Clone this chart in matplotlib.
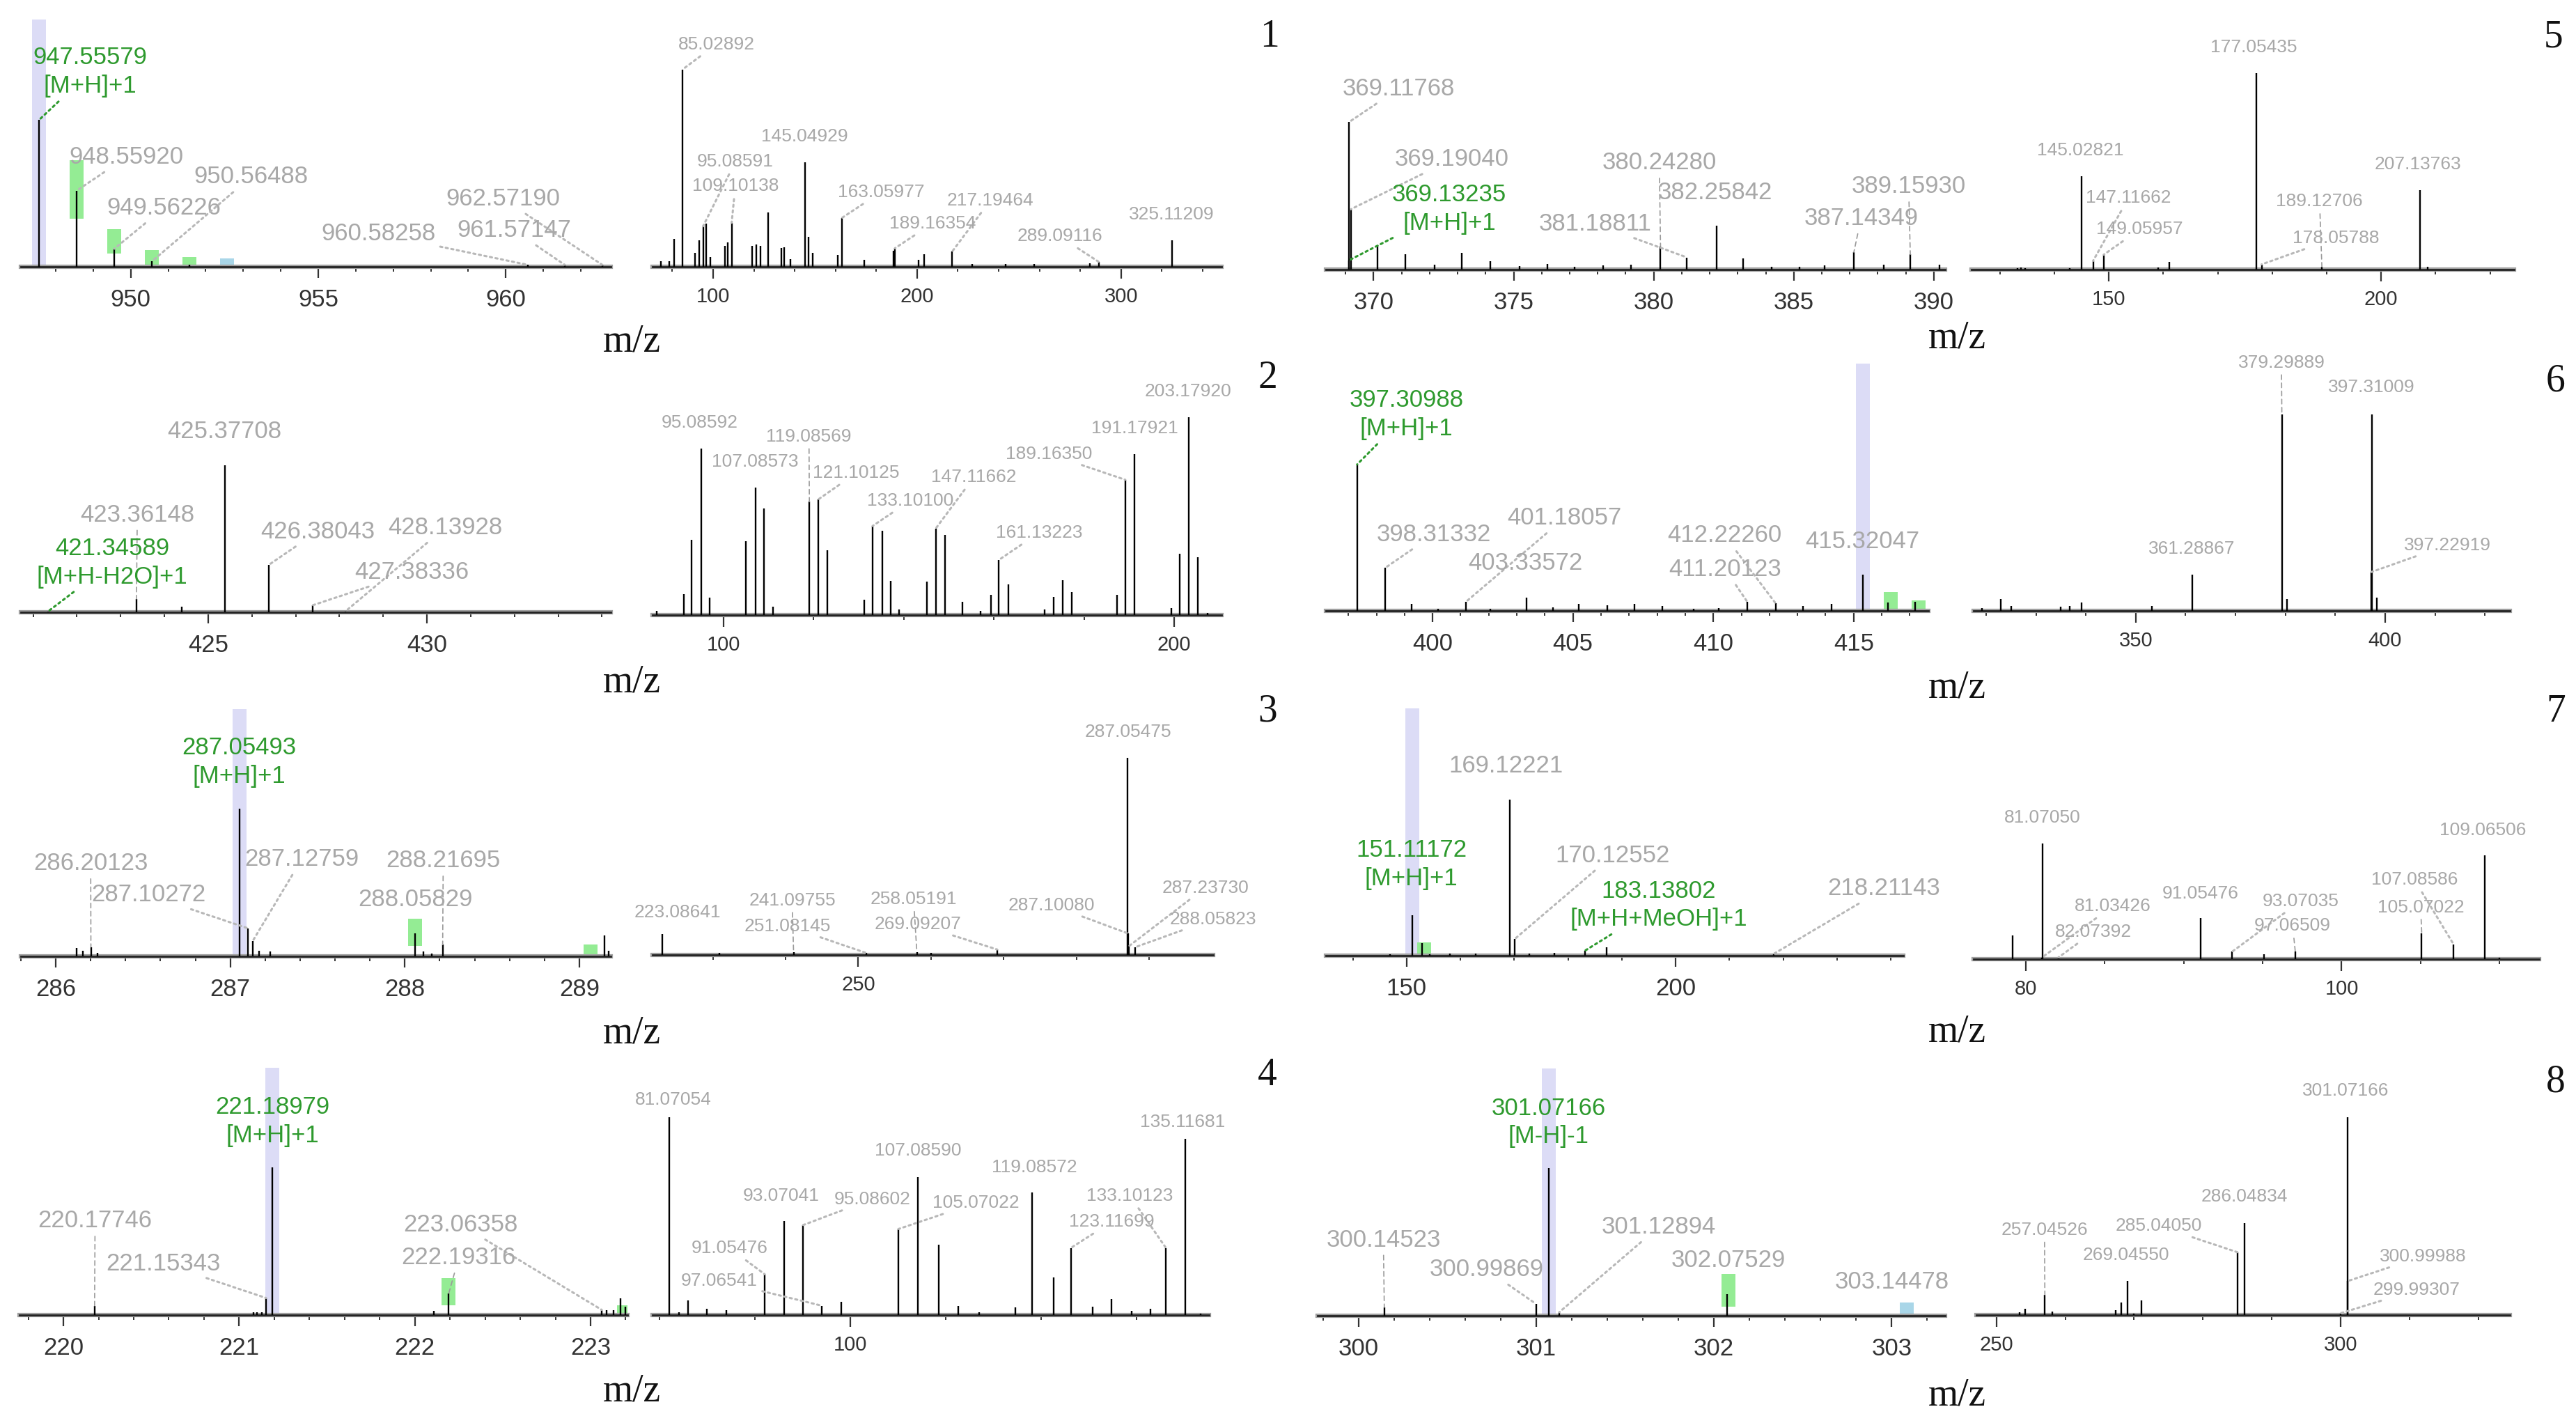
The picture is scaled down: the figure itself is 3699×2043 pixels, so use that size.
import matplotlib
matplotlib.use('Agg')
import matplotlib.pyplot as plt
from matplotlib.ticker import MultipleLocator, FormatStrFormatter

plt.rcParams['font.family'] = ['Liberation Sans', 'DejaVu Sans']

# ---------------- DATA ----------------
# Panel 1
p1_ms1_mz = [947.55579, 948.55920, 949.56226, 950.56488, 951.567, 960.58258, 961.57147, 962.57190]
p1_ms1_int = [59.4, 30.8, 7.3, 2.2, 0.8, 0.8, 0.8, 0.8]
p1_ms1_lab = [947.55579, 948.55920, 949.56226, 950.56488, 962.57190, 961.57147, 960.58258]
p1_ms1_note = ['[M+H]+1', '', '', '', '', '', '']
p1_ms1_prec = 947.55579
p1_iso_mz = [948.56, 949.56, 950.56, 951.57, 952.57]
p1_iso_lo = [19.5, 5.4, 0.0, 0.3, 0.3]
p1_iso_hi = [43.0, 15.3, 6.9, 4.0, 3.4]
p1_iso_kind = ['g', 'g', 'g', 'g', 'b']

p1_ms2_mz = [74.3, 78.4, 80.9, 85.02892, 91.05, 93.07, 95.08591, 96.7, 98.5, 105.7, 107.3, 109.10138,
             119.1, 121.2, 123.2, 126.9, 133.4, 135.0, 138.0, 145.04929, 146.8, 148.9, 161.1, 163.05977,
             174.1, 188.4, 189.16354, 200.6, 203.5, 217.19464, 227.0, 243.4, 257.6, 284.9, 289.09116, 325.11209]
p1_ms2_int = [2.3, 2.3, 11.3, 79.8, 5.6, 10.8, 16.4, 17.4, 4.0, 8.5, 10.0, 17.8,
              8.5, 9.0, 8.5, 22.0, 7.5, 8.0, 3.0, 42.3, 12.0, 5.6, 4.7, 19.7,
              2.8, 6.6, 7.5, 2.8, 5.2, 6.1, 1.0, 1.0, 1.2, 1.5, 2.0, 10.8]
p1_ms2_lab = [85.02892, 145.04929, 95.08591, 109.10138, 163.05977, 217.19464, 189.16354, 289.09116, 325.11209]

# Panel 2
p2_ms1_mz = [421.34589, 423.36148, 424.39, 425.37708, 426.38043, 427.38336, 428.13928]
p2_ms1_int = [0.4, 5.4, 2.2, 59.4, 19.1, 2.8, 0.4]
p2_ms1_lab = [425.37708, 423.36148, 421.34589, 426.38043, 428.13928, 427.38336]
p2_ms1_note = ['', '', '[M+H-H2O]+1', '', '', '']

p2_ms2_mz = [85.3, 91.2, 93.0, 95.08592, 96.9, 105.0, 107.08573, 109.0, 111.0, 119.08569, 121.10125, 123.0,
             131.3, 133.10100, 135.2, 137.2, 139.0, 145.1, 147.11662, 149.2, 153.0, 157.1, 159.3, 161.13223,
             163.2, 171.3, 173.3, 175.3, 177.3, 187.3, 189.16350, 191.17921, 199.4, 201.3, 203.17920, 205.3, 207.4]
p2_ms2_int = [1.7, 8.5, 30.3, 67.2, 7.1, 29.9, 51.5, 43.2, 3.4, 45.8, 46.8, 26.1,
              6.2, 36.0, 34.1, 13.9, 2.2, 13.4, 35.0, 32.5, 5.3, 1.7, 8.3, 22.3,
              12.5, 2.2, 7.3, 14.2, 9.2, 8.3, 54.7, 65.1, 2.8, 24.9, 79.9, 23.3, 0.8]
p2_ms2_lab = [95.08592, 107.08573, 119.08569, 121.10125, 133.10100, 147.11662, 161.13223, 189.16350, 191.17921, 203.17920]

# Panel 3
p3_ms1_mz = [286.12, 286.157, 286.20123, 286.24, 287.05493, 287.10272, 287.12759, 287.165, 287.227,
             288.05829, 288.107, 288.155, 288.21695, 289.143, 289.167]
p3_ms1_int = [3.3, 2.3, 3.8, 1.4, 59.6, 11.3, 6.1, 2.3, 1.9, 9.4, 1.9, 1.2, 4.7, 8.5, 2.3]
p3_ms1_lab = [287.05493, 286.20123, 287.10272, 287.12759, 288.21695, 288.05829]
p3_ms1_note = ['[M+H]+1', '', '', '', '', '']
p3_ms1_prec = 287.05493
p3_iso_mz = [288.058, 289.065]
p3_iso_lo = [4.2, 0.2]
p3_iso_hi = [15.2, 4.9]
p3_iso_kind = ['g', 'g']

p3_ms2_mz = [223.08641, 230.9, 241.09755, 251.08145, 258.05191, 260.0, 269.09207, 287.05475, 287.10080, 287.23730, 288.05823]
p3_ms2_int = [8.5, 0.8, 1.2, 0.8, 1.2, 0.8, 2.2, 79.6, 8.7, 3.6, 3.1]
p3_ms2_lab = [287.05475, 223.08641, 241.09755, 251.08145, 258.05191, 269.09207, 287.10080, 287.23730, 288.05823]

# Panel 4
p4_ms1_mz = [220.17746, 221.08, 221.10, 221.13, 221.15343, 221.18979, 222.11, 222.19316,
             223.06358, 223.09, 223.13, 223.17, 223.20]
p4_ms1_int = [3.75, 1.2, 1.2, 1.2, 6.9, 59.6, 1.6, 8.8, 2.1, 2.1, 2.1, 6.9, 3.4]
p4_ms1_lab = [221.18979, 220.17746, 221.15343, 223.06358, 222.19316]
p4_ms1_note = ['[M+H]+1', '', '', '', '']
p4_ms1_prec = 221.18979
p4_iso_mz = [222.193, 223.19]
p4_iso_lo = [4.0, 0.0]
p4_iso_hi = [14.9, 4.0]
p4_iso_kind = ['g', 'g']

p4_ms2_mz = [81.07054, 82.1, 83.0, 85.0, 87.0, 91.05476, 93.07041, 95.08602, 97.06541, 99.1, 105.07022,
             107.08590, 109.3, 111.3, 113.5, 117.3, 119.08572, 121.3, 123.11699, 125.4, 127.4, 129.5,
             131.5, 133.10123, 135.11681, 136.7]
p4_ms2_int = [80.0, 1.0, 6.0, 2.4, 2.1, 16.5, 38.0, 36.4, 3.75, 5.3, 34.8,
              55.8, 28.4, 3.75, 1.2, 3.1, 49.5, 15.3, 27.1, 3.4, 6.4, 1.6,
              2.6, 27.1, 71.2, 0.7]
p4_ms2_lab = [81.07054, 135.11681, 107.08590, 119.08572, 93.07041, 95.08602, 105.07022, 133.10123,
              123.11699, 91.05476, 97.06541]

# Panel 5
p5_ms1_mz = [369.11768, 369.13235, 369.19040, 370.14, 371.14, 372.17, 373.15, 374.17, 375.2, 376.2, 377.17,
             378.2, 379.2, 380.24280, 381.18811, 382.25842, 383.2, 384.2, 385.2, 386.1, 387.14349, 388.2,
             389.15930, 390.2]
p5_ms1_int = [59.6, 3.8, 24.4, 9.9, 6.1, 1.9, 6.8, 3.3, 1.4, 2.3, 1.1,
              1.6, 2.0, 9.4, 4.9, 17.7, 4.4, 1.1, 1.1, 1.6, 7.0, 1.9,
              6.1, 1.9]
p5_ms1_lab = [369.11768, 369.19040, 369.13235, 380.24280, 382.25842, 381.18811, 387.14349, 389.15930]
p5_ms1_note = ['', '', '[M+H]+1', '', '', '', '', '']

p5_ms2_mz = [133.2, 133.9, 134.7, 142.8, 145.02821, 147.11662, 149.05957, 159.1, 161.1, 177.05435,
             178.05788, 189.12706, 207.13763, 208.5]
p5_ms2_int = [0.7, 0.9, 0.7, 0.7, 37.7, 3.5, 6.0, 0.9, 3.0, 79.5, 2.1, 1.1, 32.1, 1.1]
p5_ms2_lab = [177.05435, 145.02821, 207.13763, 147.11662, 149.05957, 189.12706, 178.05788]

# Panel 6
p6_ms1_mz = [397.30988, 398.31332, 399.25, 400.19, 401.18057, 402.06, 403.33572, 404.28, 405.2, 406.23,
             407.2, 408.18, 409.3, 410.2, 411.20123, 412.22260, 413.2, 414.2, 415.32047, 416.23, 417.2]
p6_ms1_int = [59.2, 17.4, 2.8, 0.8, 3.6, 0.9, 5.4, 1.4, 2.8, 2.3,
              2.8, 2.1, 0.9, 1.1, 3.8, 3.0, 1.9, 2.8, 14.6, 3.3, 3.8]
p6_ms1_lab = [397.30988, 398.31332, 401.18057, 403.33572, 412.22260, 411.20123, 415.32047]
p6_ms1_note = ['[M+H]+1', '', '', '', '', '', '']
p6_ms1_prec = 415.32047
p6_iso_mz = [416.32, 417.32]
p6_iso_lo = [0.0, 0.0]
p6_iso_hi = [7.7, 4.2]
p6_iso_kind = ['g', 'g']

p6_ms2_mz = [319.2, 323.0, 325.0, 335.0, 336.7, 339.2, 353.3, 361.28867, 379.29889, 380.3,
             397.22919, 397.31009, 398.3]
p6_ms2_int = [1.0, 4.7, 2.0, 1.6, 2.0, 3.5, 2.0, 14.7, 79.5, 4.9, 15.7, 79.5, 5.4]
p6_ms2_lab = [379.29889, 397.31009, 361.28867, 397.22919]

# Panel 7
p7_ms1_mz = [146.9, 151.11172, 152.8, 154.3, 158.1, 162.8, 169.12221, 170.12552, 172.8, 177.4,
             183.13802, 187.2, 218.21143]
p7_ms1_int = [0.7, 16.4, 5.0, 0.7, 0.9, 0.9, 63.1, 6.8, 0.9, 1.1, 2.0, 3.5, 0.7]
p7_ms1_lab = [169.12221, 151.11172, 170.12552, 183.13802, 218.21143]
p7_ms1_note = ['', '[M+H]+1', '', '[M+H+MeOH]+1', '']
p7_ms1_prec = 151.11172
p7_iso_mz = [153.3]
p7_iso_lo = [0.0]
p7_iso_hi = [5.4]
p7_iso_kind = ['g']

p7_ms2_mz = [79.16, 81.03426, 81.07050, 82.07392, 91.05476, 93.07035, 95.1, 97.06509, 105.07022,
             107.08586, 109.06506, 110.0]
p7_ms2_int = [9.6, 0.7, 46.9, 0.7, 16.6, 3.0, 2.1, 3.0, 10.5, 6.0, 42.0, 0.7]
p7_ms2_lab = [81.07050, 109.06506, 91.05476, 81.03426, 82.07392, 93.07035, 97.06509, 107.08586, 105.07022]

# Panel 8
p8_ms1_mz = [300.14523, 300.99869, 301.07166, 301.12894, 302.07529]
p8_ms1_int = [3.4, 4.8, 59.6, 1.4, 8.8]
p8_ms1_lab = [301.07166, 300.14523, 300.99869, 301.12894, 302.07529, 303.14478]
p8_ms1_note = ['[M-H]-1', '', '', '', '', '']
p8_ms1_prec = 301.07166
p8_iso_mz = [302.08, 303.085]
p8_iso_lo = [3.8, 0.0]
p8_iso_hi = [16.8, 5.3]
p8_iso_kind = ['g', 'b']

p8_ms2_mz = [253.4, 254.2, 257.04526, 258.1, 267.3, 268.1, 269.04550, 270.0, 271.1, 285.04050,
             286.04834, 299.99307, 300.99988, 301.07166]
p8_ms2_int = [1.2, 2.4, 8.2, 1.4, 2.1, 5.0, 13.9, 0.7, 6.0, 25.4, 37.2, 0.7, 13.7, 80.0]
p8_ms2_lab = [301.07166, 286.04834, 257.04526, 285.04050, 269.04550, 300.99988, 299.99307]

panel_numbers = ['1', '2', '3', '4', '5', '6', '7', '8']
axis_title = 'm/z'

# ---------------- LAYOUT (pixels) ----------------
W, H = 3699, 2043
AX_H = 355
LAYOUT = {
    'p1a': (30, 877, 383), 'p1b': (937, 1754, 383),
    'p2a': (30, 877, 879), 'p2b': (937, 1754, 883),
    'p3a': (30, 877, 1373), 'p3b': (937, 1742, 1371),
    'p4a': (28, 901, 1888), 'p4b': (937, 1736, 1888),
    'p5a': (1904, 2793, 387), 'p5b': (2831, 3610, 387),
    'p6a': (1904, 2769, 877), 'p6b': (2834, 3604, 877),
    'p7a': (1904, 2733, 1372), 'p7b': (2834, 3646, 1377),
    'p8a': (1892, 2793, 1889), 'p8b': (2838, 3604, 1888),
}
XLIM = {
    'p1a': (947.07, 962.8), 'p1b': (70.3, 349.3),
    'p2a': (420.72, 434.2), 'p2b': (84.3, 210.5),
    'p3a': (285.8, 289.18), 'p3b': (221.7, 298.8),
    'p4a': (219.75, 223.21), 'p4b': (79.3, 137.6),
    'p5a': (368.3, 390.4), 'p5b': (124.8, 224.4),
    'p6a': (396.2, 417.66), 'p6b': (317.5, 425.0),
    'p7a': (135.0, 242.3), 'p7b': (76.7, 112.5),
    'p8a': (299.77, 303.3), 'p8b': (247.1, 324.6),
}
TICKS = {
    'p1a': (5, 1), 'p1b': (100, 20), 'p2a': (5, 1), 'p2b': (100, 20),
    'p3a': (1, 0.2), 'p3b': (50, 10), 'p4a': (1, 0.2), 'p4b': (50, 10),
    'p5a': (5, 1), 'p5b': (50, 10), 'p6a': (5, 1), 'p6b': (50, 10),
    'p7a': (50, 10), 'p7b': (20, 5), 'p8a': (1, 0.2), 'p8b': (50, 10),
}
# label text anchor positions (x in m/z, y = bottom of text in % of axes height) and leader style
LABPOS = {
    'p1a': ([948.91, 949.89, 950.88, 953.21, 959.93, 960.22, 956.6], [68.4, 39.7, 19.1, 31.7, 22.8, 10.1, 8.7], 'gdddddd'),
    'p1b': ([101.6, 144.9, 111.0, 110.9, 182.3, 236.0, 207.5, 269.9, 324.8], [86.6, 49.3, 39.2, 29.3, 26.8, 23.5, 14.1, 8.9, 17.7], 'dnddddddn'),
    'p2a': ([425.38, 423.38, 422.81, 427.5, 430.42, 429.65], [68.4, 34.7, 9.7, 28.0, 29.6, 11.5], 'nvgddd'),
    'p2b': ([94.8, 107.0, 119.0, 129.5, 141.4, 155.6, 170.0, 172.2, 191.2, 203.1], [74.5, 58.5, 68.8, 54.1, 42.8, 52.4, 29.9, 61.8, 72.1, 87.1], 'nnvdddddnn'),
    'p3a': ([287.05, 286.2, 286.53, 287.41, 288.22, 288.06], [68.1, 32.9, 20.2, 34.7, 34.0, 18.3], 'nvddvn'),
    'p3b': ([287.1, 225.1, 240.9, 240.3, 257.6, 258.2, 276.6, 297.7, 298.8], [86.7, 13.9, 18.7, 8.3, 19.1, 9.0, 16.7, 23.8, 11.1], 'nnvdvdddd'),
    'p4a': ([221.19, 220.18, 220.57, 222.26, 222.25], [68.0, 33.4, 16.1, 31.9, 18.5], 'nvddv'),
    'p4b': ([81.5, 134.8, 107.1, 119.3, 92.8, 102.3, 113.2, 129.3, 127.4, 87.4, 86.3], [83.8, 74.7, 63.2, 56.3, 44.9, 43.5, 42.0, 44.9, 34.3, 23.6, 10.5], 'nnnnndddddd'),
    'p5a': ([370.9, 372.8, 372.7, 380.2, 382.2, 377.9, 387.4, 389.1], [68.5, 39.9, 14.1, 38.5, 26.5, 13.9, 16.0, 28.9], 'ddgvndvv'),
    'p5b': ([176.6, 144.8, 206.8, 153.6, 155.7, 188.7, 191.7], [86.6, 44.8, 39.2, 25.5, 12.9, 24.1, 9.4], 'nnnddvd'),
    'p6a': ([399.07, 400.05, 404.7, 403.3, 410.4, 410.42, 415.3], [69.0, 26.3, 32.9, 14.6, 25.8, 12.2, 23.5], 'gddnddn'),
    'p6b': ([379.2, 397.2, 361.2, 412.5], [97.0, 87.0, 21.8, 23.2], 'vnnd'),
    'p7a': ([168.5, 150.9, 188.3, 196.8, 238.7], [72.0, 26.5, 35.9, 10.0, 22.4], 'nndgd'),
    'p7b': ([81.05, 108.95, 91.05, 85.5, 84.3, 97.4, 96.9, 104.6, 105.0], [53.9, 48.8, 23.2, 18.0, 7.7, 20.1, 10.0, 28.8, 17.6], 'nnndddvdv'),
    'p8a': ([301.07, 300.14, 300.72, 301.69, 302.08, 303.0], [67.8, 26.0, 14.0, 31.3, 17.8, 9.1], 'nvddnn'),
    'p8b': ([300.7, 286.0, 257.0, 273.6, 268.8, 312.0, 311.1], [87.2, 44.4, 31.0, 32.6, 20.9, 20.4, 6.9], 'nnvdndd'),
}
TITLE_POS = [(907, 491), (907, 980), (907, 1483), (907, 1998),
             (2810, 485), (2810, 988), (2810, 1482), (2810, 2003)]
NUM_POS = [(1823, 53), (1820, 543), (1820, 1022), (1820, 1544),
           (3666, 53), (3670, 548), (3670, 1022), (3670, 1553)]

GREEN = '#2e9a2e'
GRAY_TXT = '#a8a8a8'
GRAY_LEAD = '#b8b8b8'
PREC_COL = '#dcdcf6'
ISO_COL = {'g': '#94ec94', 'b': '#a9d6e8'}

fig = plt.figure(figsize=(W / 100, H / 100), dpi=100)
fig.patch.set_facecolor('white')


def draw(key, mz, inten, lab, notes=None, prec=None, iso=None, ms2=False):
    x0, x1, base = LAYOUT[key]
    ax = fig.add_axes([x0 / W, 1 - base / H, (x1 - x0) / W, AX_H / H])
    xl = XLIM[key]
    ax.set_xlim(*xl)
    ax.set_ylim(0, 100)
    wpx = 20.0 / (x1 - x0) * (xl[1] - xl[0])
    if prec is not None:
        ax.axvspan(prec - wpx / 2, prec + wpx / 2, color=PREC_COL, zorder=0.5, lw=0)
    if iso is not None:
        imz, ilo, ihi, ikind = iso
        ax.bar(imz, [h - l for h, l in zip(ihi, ilo)], bottom=ilo, width=wpx,
               color=[ISO_COL[k] for k in ikind], zorder=1, lw=0)
    ax.vlines(mz, 0, inten, color='black', lw=1.7, zorder=3)
    ax.axhline(0, color='#a0a0a0', lw=4.5, zorder=2, clip_on=False)

    maj, mnr = TICKS[key]
    ax.xaxis.set_major_locator(MultipleLocator(maj))
    ax.xaxis.set_minor_locator(MultipleLocator(mnr))
    ax.xaxis.set_major_formatter(FormatStrFormatter('%d'))
    tfs = 21 if ms2 else 25
    ax.tick_params(axis='x', which='major', direction='out', length=12 if ms2 else 11.5,
                   width=1.6, color='#333333', labelsize=tfs, labelcolor='#333333', pad=9 if ms2 else 11)
    ax.tick_params(axis='x', which='minor', direction='out', length=5, width=1.4, color='#333333')
    ax.set_yticks([])
    for s in ['top', 'left', 'right']:
        ax.spines[s].set_visible(False)
    ax.spines['bottom'].set_linewidth(2.0)
    ax.spines['bottom'].set_color('#222222')
    ax.patch.set_alpha(0)

    txs, tys, lead = LABPOS[key]
    lfs = 19 if ms2 else 25
    if notes is None:
        notes = [''] * len(lab)
    for m, note, tx, ty, ld in zip(lab, notes, txs, tys, lead):
        yv = 0.0
        for pm, pi in zip(mz, inten):
            if abs(pm - m) < 1e-4:
                yv = pi
        txt = f'{m:.5f}' + ('\n' + note if note else '')
        col = GREEN if note else GRAY_TXT
        if ld == 'n':
            ax.text(tx, ty, txt, ha='center', va='bottom', fontsize=lfs, color=col,
                    multialignment='center', linespacing=1.3, zorder=5)
        else:
            if ld == 'v':
                ap = dict(arrowstyle='-', color='#9a9a9a', lw=1.2, linestyle=(0, (4, 3)),
                          shrinkA=2, shrinkB=0)
            elif ld == 'g':
                ap = dict(arrowstyle='-', color=GREEN, lw=2.2, linestyle=':', shrinkA=3, shrinkB=0)
            else:
                ap = dict(arrowstyle='-', color=GRAY_LEAD, lw=2.2, linestyle=':', shrinkA=3, shrinkB=0)
            ax.annotate(txt, xy=(m, yv), xytext=(tx, ty), textcoords='data',
                        ha='center', va='bottom', fontsize=lfs, color=col,
                        multialignment='center', linespacing=1.3, arrowprops=ap, zorder=5)
    return ax


draw('p1a', p1_ms1_mz, p1_ms1_int, p1_ms1_lab, p1_ms1_note, p1_ms1_prec,
     (p1_iso_mz, p1_iso_lo, p1_iso_hi, p1_iso_kind))
draw('p1b', p1_ms2_mz, p1_ms2_int, p1_ms2_lab, ms2=True)
draw('p2a', p2_ms1_mz, p2_ms1_int, p2_ms1_lab, p2_ms1_note)
draw('p2b', p2_ms2_mz, p2_ms2_int, p2_ms2_lab, ms2=True)
draw('p3a', p3_ms1_mz, p3_ms1_int, p3_ms1_lab, p3_ms1_note, p3_ms1_prec,
     (p3_iso_mz, p3_iso_lo, p3_iso_hi, p3_iso_kind))
draw('p3b', p3_ms2_mz, p3_ms2_int, p3_ms2_lab, ms2=True)
draw('p4a', p4_ms1_mz, p4_ms1_int, p4_ms1_lab, p4_ms1_note, p4_ms1_prec,
     (p4_iso_mz, p4_iso_lo, p4_iso_hi, p4_iso_kind))
draw('p4b', p4_ms2_mz, p4_ms2_int, p4_ms2_lab, ms2=True)
draw('p5a', p5_ms1_mz, p5_ms1_int, p5_ms1_lab, p5_ms1_note)
draw('p5b', p5_ms2_mz, p5_ms2_int, p5_ms2_lab, ms2=True)
draw('p6a', p6_ms1_mz, p6_ms1_int, p6_ms1_lab, p6_ms1_note, p6_ms1_prec,
     (p6_iso_mz, p6_iso_lo, p6_iso_hi, p6_iso_kind))
draw('p6b', p6_ms2_mz, p6_ms2_int, p6_ms2_lab, ms2=True)
draw('p7a', p7_ms1_mz, p7_ms1_int, p7_ms1_lab, p7_ms1_note, p7_ms1_prec,
     (p7_iso_mz, p7_iso_lo, p7_iso_hi, p7_iso_kind))
draw('p7b', p7_ms2_mz, p7_ms2_int, p7_ms2_lab, ms2=True)
draw('p8a', p8_ms1_mz, p8_ms1_int, p8_ms1_lab, p8_ms1_note, p8_ms1_prec,
     (p8_iso_mz, p8_iso_lo, p8_iso_hi, p8_iso_kind))
draw('p8b', p8_ms2_mz, p8_ms2_int, p8_ms2_lab, ms2=True)

serif = ['Liberation Serif', 'DejaVu Serif']
for (x, y) in TITLE_POS:
    fig.text(x / W, 1 - y / H, axis_title, ha='center', va='center', fontsize=40,
             family=serif, color='#111111')
for num, (x, y) in zip(panel_numbers, NUM_POS):
    fig.text(x / W, 1 - y / H, num, ha='center', va='center', fontsize=40,
             family=serif, color='#111111')

fig.savefig('out.png', dpi=100, facecolor='white')
